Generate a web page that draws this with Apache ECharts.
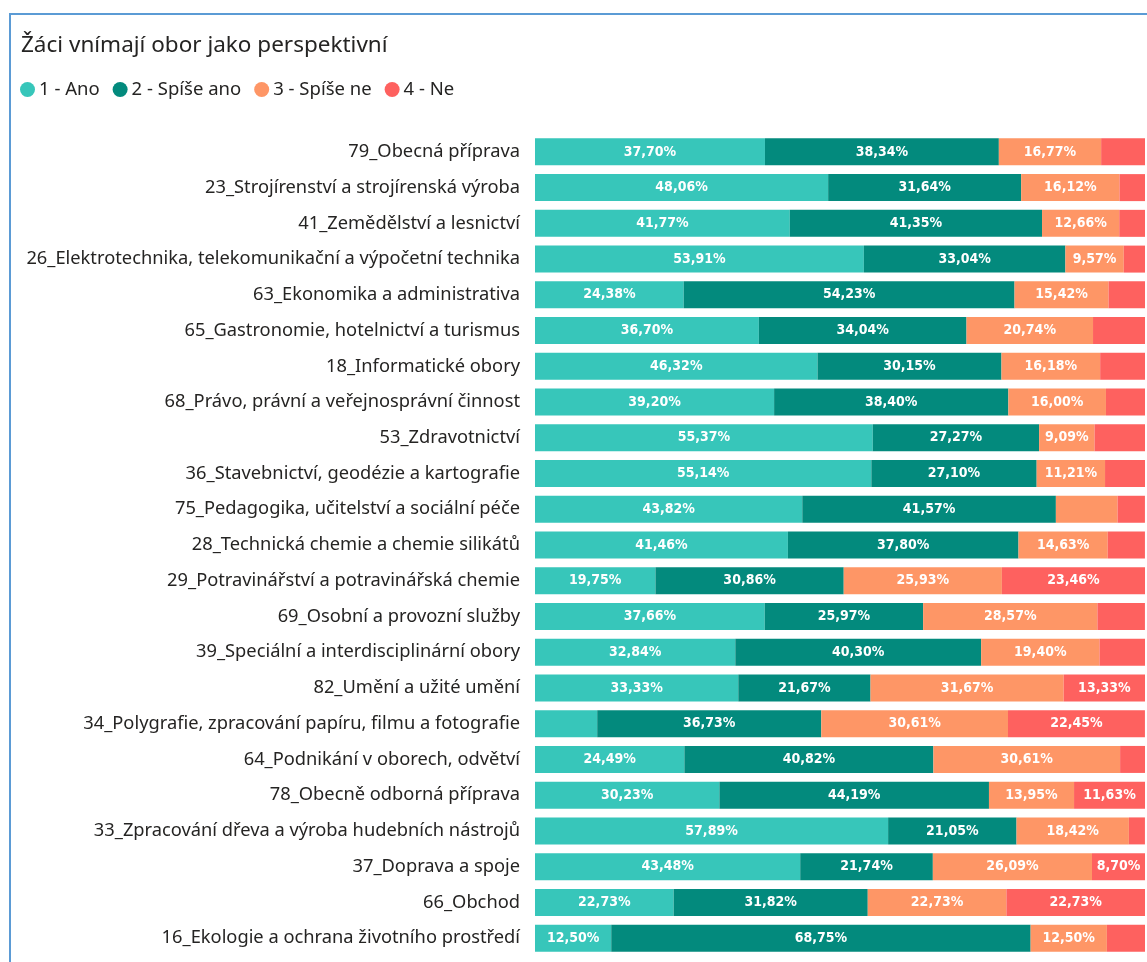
<!DOCTYPE html>
<html>
<head>
<meta charset="utf-8">
<script src="https://cdn.jsdelivr.net/npm/echarts@6/dist/echarts.min.js"></script>
<style>
html, body { margin: 0; padding: 0; background: #fff; }
#container { width: 1147px; height: 962px; }
</style>
</head>
<body>
<div id="container"></div>
<script>
/* Žáci vnímají obor jako perspektivní */
var obory = ['79_Obecná příprava', '23_Strojírenství a strojírenská výroba', '41_Zemědělství a lesnictví',
    '26_Elektrotechnika, telekomunikační a výpočetní technika', '63_Ekonomika a administrativa',
    '65_Gastronomie, hotelnictví a turismus', '18_Informatické obory', '68_Právo, právní a veřejnosprávní činnost',
    '53_Zdravotnictví', '36_Stavebnictví, geodézie a kartografie', '75_Pedagogika, učitelství a sociální péče',
    '28_Technická chemie a chemie silikátů', '29_Potravinářství a potravinářská chemie', '69_Osobní a provozní služby',
    '39_Speciální a interdisciplinární obory', '82_Umění a užité umění', '34_Polygrafie, zpracování papíru, filmu a fotografie',
    '64_Podnikání v oborech, odvětví', '78_Obecně odborná příprava', '33_Zpracování dřeva a výroba hudebních nástrojů',
    '37_Doprava a spoje', '66_Obchod', '16_Ekologie a ochrana životního prostředí'];

var ano       = [37.70, 48.06, 41.77, 53.91, 24.38, 36.70, 46.32, 39.20, 55.37, 55.14, 43.82, 41.46, 19.75, 37.66, 32.84, 33.33, 10.20, 24.49, 30.23, 57.89, 43.48, 22.73, 12.50];
var spiseAno  = [38.34, 31.64, 41.35, 33.04, 54.23, 34.04, 30.15, 38.40, 27.27, 27.10, 41.57, 37.80, 30.86, 25.97, 40.30, 21.67, 36.73, 40.82, 44.19, 21.05, 21.74, 31.82, 68.75];
var spiseNe   = [16.77, 16.12, 12.66, 9.57, 15.42, 20.74, 16.18, 16.00, 9.09, 11.21, 10.11, 14.63, 25.93, 28.57, 19.40, 31.67, 30.61, 30.61, 13.95, 18.42, 26.09, 22.73, 12.50];
var ne        = [7.19, 4.18, 4.22, 3.48, 5.97, 8.52, 7.35, 6.40, 8.27, 6.55, 4.49, 6.10, 23.46, 7.79, 7.46, 13.33, 22.45, 4.08, 11.63, 2.63, 8.70, 22.73, 6.25];

var nazvy = ['1 - Ano', '2 - Spíše ano', '3 - Spíše ne', '4 - Ne'];
var barvy = ['#37C6BA', '#038A7D', '#FE9666', '#FE615F'];

var dom = document.getElementById('container');
var myChart = echarts.init(dom);

// popisek se nevejde -> schovat
function popisek(p) {
    var v = p.value;
    if (v < 8.6 || (v >= 10 && v < 10.5)) return '';
    return v.toFixed(2).replace('.', ',') + '%';
}

function serie(name, data) {
    return {
        name: name,
        type: 'bar',
        stack: 'celkem',
        barWidth: 27,
        data: data,
        label: {
            show: true,
            color: '#fff',
            fontFamily: '"DejaVu Sans Condensed", sans-serif',
            fontWeight: 'bold',
            fontSize: 14,
            formatter: popisek
        }
    };
}

var option = {
    color: barvy,
    animation: false,
    title: {
        text: 'Žáci vnímají obor jako perspektivní',
        left: 16,
        top: 29,
        textStyle: { fontFamily: '"Noto Sans", sans-serif', fontWeight: 'normal', fontSize: 22.5, color: '#252423' }
    },
    legend: {
        left: 15,
        top: 75,
        icon: 'circle',
        itemWidth: 15,
        itemHeight: 15,
        itemGap: 13,
        textStyle: { fontFamily: '"Noto Sans", sans-serif', fontSize: 18.5, color: '#252423', padding: [0, 0, 0, -1] },
        data: nazvy
    },
    graphic: [{
        type: 'rect',
        shape: { x: 10, y: 14, width: 1150, height: 960 },
        style: { fill: 'none', stroke: '#5B9BD5', lineWidth: 2 },
        silent: true
    }],
    grid: {
        left: 535,
        right: 2,
        top: 134,
        bottom: 6,
        containLabel: false
    },
    xAxis: {
        type: 'value',
        min: 0,
        max: 100,
        show: false
    },
    yAxis: {
        type: 'category',
        inverse: true,
        data: obory,
        axisLine: { show: false },
        axisTick: { show: false },
        axisLabel: {
            margin: 15,
            fontFamily: '"Noto Sans", sans-serif',
            fontSize: 18.3,
            color: '#252423'
        }
    },
    series: [
        serie(nazvy[0], ano),
        serie(nazvy[1], spiseAno),
        serie(nazvy[2], spiseNe),
        serie(nazvy[3], ne)
    ]
};

if (option && typeof option === "object") {
    myChart.setOption(option, true);
}
</script>
</body>
</html>
